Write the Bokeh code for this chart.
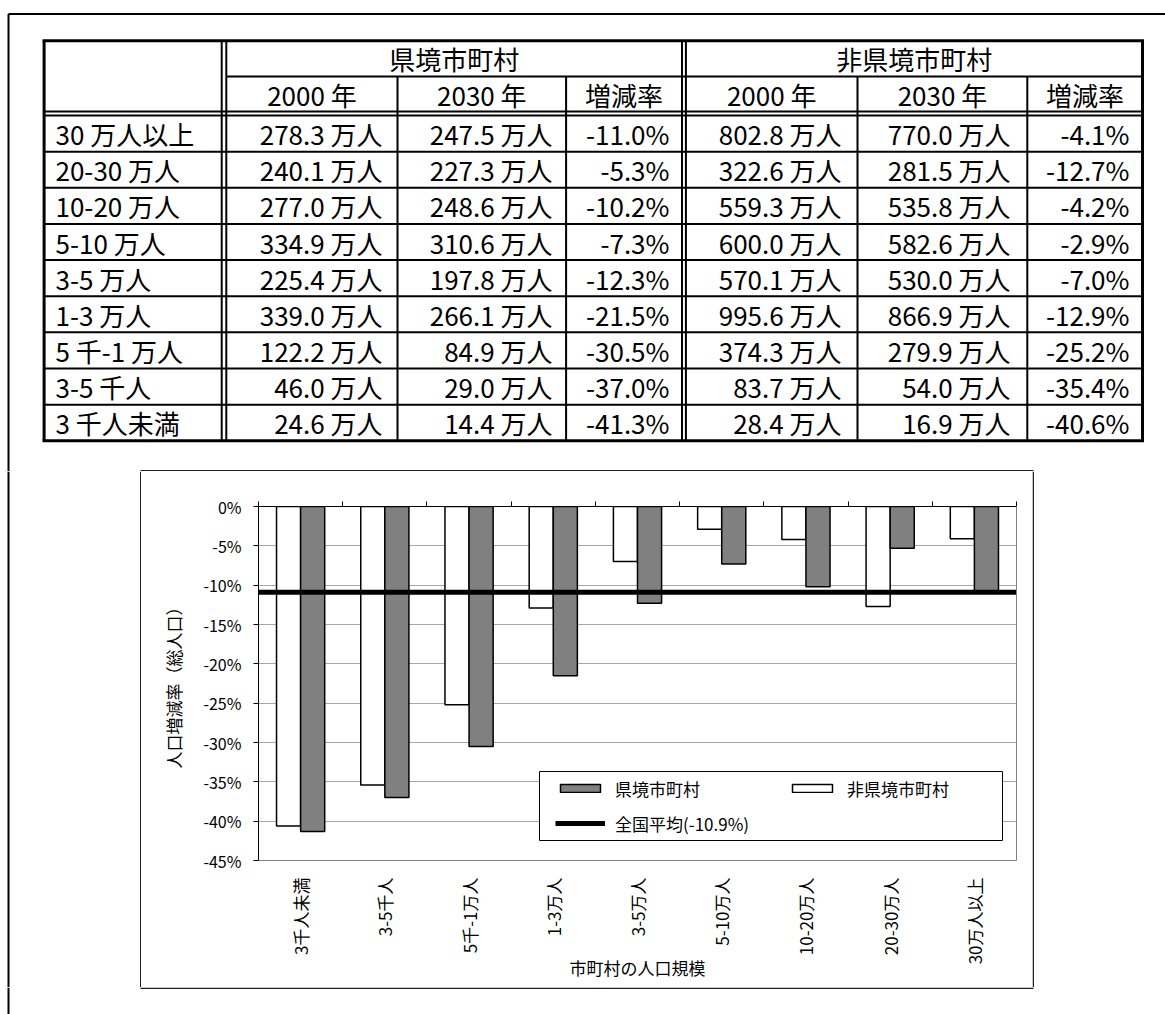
import math

from bokeh.core.properties import value
from bokeh.embed import file_html
from bokeh.layouts import column, row
from bokeh.models import (BoxAnnotation, ColumnDataSource, CustomJSTickFormatter,
                          FixedTicker, Legend, LegendItem, LinearAxis,
                          PrintfTickFormatter, Range1d)
from bokeh.plotting import figure
from bokeh.resources import INLINE

FONT = "Noto Sans CJK JP"

# ---------------------------------------------------------------- data
# table rows: municipality population size, largest first
size_classes = ["30 万人以上", "20-30 万人", "10-20 万人", "5-10 万人", "3-5 万人",
                "1-3 万人", "5 千-1 万人", "3-5 千人", "3 千人未満"]

# prefecture-border municipalities (万人, %)
border_2000 = [278.3, 240.1, 277.0, 334.9, 225.4, 339.0, 122.2, 46.0, 24.6]
border_2030 = [247.5, 227.3, 248.6, 310.6, 197.8, 266.1, 84.9, 29.0, 14.4]
border_rate = [-11.0, -5.3, -10.2, -7.3, -12.3, -21.5, -30.5, -37.0, -41.3]

# other municipalities (万人, %)
inner_2000 = [802.8, 322.6, 559.3, 600.0, 570.1, 995.6, 374.3, 83.7, 28.4]
inner_2030 = [770.0, 281.5, 535.8, 582.6, 530.0, 866.9, 279.9, 54.0, 16.9]
inner_rate = [-4.1, -12.7, -4.2, -2.9, -7.0, -12.9, -25.2, -35.4, -40.6]

group_names = ["県境市町村", "非県境市町村"]
column_headers = ["2000 年", "2030 年", "増減率"]

# chart categories, smallest first
chart_categories = ["3千人未満", "3-5千人", "5千-1万人", "1-3万人", "3-5万人",
                    "5-10万人", "10-20万人", "20-30万人", "30万人以上"]
national_avg = -10.9
rate_ticks = [0, -5, -10, -15, -20, -25, -30, -35, -40, -45]

y_axis_title = "人口増減率（総人口）"
x_axis_title = "市町村の人口規模"

# ---------------------------------------------------------------- page geometry
PAGE_W = 1165
TOP_H = 471          # band holding the table, down to the chart box top
MID_H = 516          # band holding the chart
BOT_H = 27           # band below the chart box
BOX_L, BOX_R = 140, 1032
FRAME_X, FRAME_Y = 8, 13.5
BOX_LINE = dict(line_color="#202020", line_width=1.5)


def canvas(w, h):
    """A plain drawing surface whose data units are pixels (y downwards)."""
    f = figure(width=w, height=h, x_range=Range1d(0, w), y_range=Range1d(h, 0),
               x_axis_type=None, y_axis_type=None, toolbar_location=None,
               output_backend="svg", min_border=0, outline_line_color=None,
               background_fill_color="white", border_fill_color="white",
               frame_align=False)
    return f


# ---------------------------------------------------------------- table band
top = canvas(PAGE_W, TOP_H)
# page frame (top and left edges)
top.segment(x0=[FRAME_X, FRAME_X], y0=[FRAME_Y, FRAME_Y], x1=[PAGE_W, FRAME_X],
            y1=[FRAME_Y, TOP_H], line_color="black", line_width=2)
# chart box top edge
top.segment(x0=[BOX_L], y0=[TOP_H - 0.75], x1=[BOX_R + 1], y1=[TOP_H - 0.75],
            **BOX_LINE)

T_L, T_R, T_T, T_B = 43.6, 1142.0, 40.2, 440.3
H1 = 76.0                      # below group headers
H2a, H2b = 111.0, 115.0        # double rule below column headers
LAB_a, LAB_b = 221.2, 225.8    # double rule right of the label column
GRP_a, GRP_b = 681.5, 685.4    # double rule between the two groups
n_rows = len(size_classes)
row_h = (T_B - H2b) / n_rows
row_edges = [H2b + row_h * k for k in range(n_rows + 1)]
row_mid = [(row_edges[k] + row_edges[k + 1]) / 2 for k in range(n_rows)]

# outer border
top.segment(x0=[T_L - 1.5, T_L - 1.5, T_L, T_R], y0=[T_T, T_B, T_T, T_T],
            x1=[T_R + 1.5, T_R + 1.5, T_L, T_R], y1=[T_T, T_B, T_B, T_B],
            line_color="black", line_width=3)
# inner rules
xs0, ys0, xs1, ys1 = [], [], [], []
for x in (LAB_a, LAB_b, GRP_a, GRP_b):
    xs0.append(x); ys0.append(T_T); xs1.append(x); ys1.append(T_B)
for x in (397.0, 565.6, 857.0, 1026.8):
    xs0.append(x); ys0.append(H1); xs1.append(x); ys1.append(T_B)
xs0.append(LAB_b); ys0.append(H1); xs1.append(T_R); ys1.append(H1)
for y in [H2a, H2b] + row_edges[1:-1]:
    xs0.append(T_L); ys0.append(y); xs1.append(T_R); ys1.append(y)
top.segment(x0=xs0, y0=ys0, x1=xs1, y1=ys1, line_color="black", line_width=2)

TABLE_FONT = dict(text_font=value(FONT), text_font_size=value("26px"),
                  text_color="black", text_baseline="middle")

# group headers
top.text(x=[(LAB_b + GRP_a) / 2, (GRP_b + T_R) / 2], y=[(T_T + H1) / 2] * 2,
         text=group_names, text_align="center", **TABLE_FONT)
# column headers
edges = [LAB_b, 397.0, 565.6, GRP_a, GRP_b, 857.0, 1026.8, T_R]
hx = [(edges[i] + edges[i + 1]) / 2 for i in (0, 1, 2, 4, 5, 6)]
top.text(x=hx, y=[(H1 + H2a) / 2] * 6, text=column_headers * 2,
         text_align="center", **TABLE_FONT)
# row labels
top.text(x=[55] * n_rows, y=row_mid, text=size_classes, text_align="left",
         **TABLE_FONT)


def people(vals):
    return [f"{v:.1f} 万人" for v in vals]


def pct(vals):
    return [f"{v:.1f}%" for v in vals]


table_cols = [(382, people(border_2000)), (552, people(border_2030)),
              (669, pct(border_rate)), (841, people(inner_2000)),
              (1010, people(inner_2030)), (1129, pct(inner_rate))]
for anchor, texts in table_cols:
    top.text(x=[anchor] * n_rows, y=row_mid, text=texts, text_align="right",
             **TABLE_FONT)

# ---------------------------------------------------------------- chart band
left_pad = canvas(BOX_L + 1, MID_H)
left_pad.segment(x0=[FRAME_X], y0=[0], x1=[FRAME_X], y1=[MID_H],
                 line_color="black", line_width=2)
left_pad.segment(x0=[BOX_L + 0.25], y0=[0], x1=[BOX_L + 0.25], y1=[MID_H],
                 **BOX_LINE)
right_pad = canvas(PAGE_W - BOX_R, MID_H)
right_pad.segment(x0=[0.75], y0=[0], x1=[0.75], y1=[MID_H], **BOX_LINE)

# categories occupy unit slots [i, i+1] on the x scale
n_cat = len(chart_categories)
slot_centres = [i + 0.5 for i in range(n_cat)]
slot_edges = list(range(n_cat + 1))

CH_W = BOX_R - (BOX_L + 1)
chart = figure(width=CH_W, height=MID_H,
               x_range=Range1d(0, n_cat), y_range=Range1d(min(rate_ticks), 0),
               toolbar_location=None, output_backend="svg",
               min_border_left=117, min_border_right=16, min_border_top=35,
               min_border_bottom=127, outline_line_color=None,
               background_fill_color="white", border_fill_color="white",
               frame_align=False)

# grid
chart.xgrid.grid_line_color = None
chart.ygrid.ticker = FixedTicker(ticks=rate_ticks)
chart.ygrid.grid_line_color = "#a6a6a6"
chart.ygrid.grid_line_width = 1

# y axis
yax = chart.yaxis[0]
yax.ticker = FixedTicker(ticks=rate_ticks)
yax.formatter = PrintfTickFormatter(format="%d%%")
yax.axis_line_color = "black"
yax.major_tick_line_color = "black"
yax.major_tick_out = 5
yax.major_tick_in = 0
yax.minor_tick_line_color = None
yax.major_label_standoff = 12
yax.major_label_text_font = FONT
yax.major_label_text_font_size = "16px"
yax.major_label_text_color = "black"
yax.axis_label = y_axis_title
yax.axis_label_standoff = 14
yax.axis_label_text_font = FONT
yax.axis_label_text_font_size = "17px"
yax.axis_label_text_font_style = "normal"
yax.axis_label_text_color = "black"

# category axis: labels hang below the plot area
cax = chart.xaxis[0]
cax.ticker = FixedTicker(ticks=slot_centres)
cax.major_label_overrides = {c: lab for c, lab in zip(slot_centres, chart_categories)}
cax.axis_line_color = "#808080"
cax.major_tick_line_color = None
cax.minor_tick_line_color = None
cax.major_tick_out = 0
cax.major_tick_in = 0
cax.major_label_orientation = math.pi / 2
cax.major_label_standoff = 17
cax.major_label_text_font = FONT
cax.major_label_text_font_size = "17px"
cax.major_label_text_color = "black"
cax.axis_label = x_axis_title
cax.axis_label_standoff = -12
cax.axis_label_text_font = FONT
cax.axis_label_text_font_size = "17px"
cax.axis_label_text_font_style = "normal"
cax.axis_label_text_color = "black"

# slot boundary ticks along the 0% line
blank = CustomJSTickFormatter(code="return ''")
top_axis = LinearAxis(ticker=FixedTicker(ticks=slot_edges), formatter=blank,
                      axis_line_color="black", major_tick_line_color="black",
                      major_tick_out=5, major_tick_in=0,
                      minor_tick_line_color=None, major_label_standoff=0)
chart.add_layout(top_axis, "above")
right_axis = LinearAxis(ticker=FixedTicker(ticks=[]), formatter=blank,
                        axis_line_color="#808080", major_tick_line_color=None,
                        minor_tick_line_color=None, major_tick_out=0,
                        major_tick_in=0, major_label_standoff=0)
chart.add_layout(right_axis, "right")

# bars: other municipalities left, border municipalities right in each slot
BAR_W = 0.286
src = ColumnDataSource(dict(
    x_inner=[c - BAR_W / 2 for c in slot_centres],
    x_border=[c + BAR_W / 2 for c in slot_centres],
    border=list(reversed(border_rate)),
    inner=list(reversed(inner_rate))))
r_inner = chart.vbar(x="x_inner", top=0, bottom="inner", width=BAR_W, source=src,
                     fill_color="white", line_color="black", line_width=1.5)
r_border = chart.vbar(x="x_border", top=0, bottom="border", width=BAR_W,
                      source=src, fill_color="#808080", line_color="black",
                      line_width=1.5)

# national average
avg_src = ColumnDataSource(dict(x=[0, n_cat], y=[national_avg, national_avg]))
r_avg = chart.line("x", "y", source=avg_src, line_color="black", line_width=5)

# legend: a framed panel (canvas pixels) holding two unframed legends
legend_panel = BoxAnnotation(left=398, right=861, top=300, bottom=369,
                             left_units="canvas", right_units="canvas",
                             top_units="canvas", bottom_units="canvas",
                             fill_color="white", fill_alpha=1,
                             line_color="black", line_width=1, line_alpha=1,
                             level="annotation")
chart.add_layout(legend_panel)

avg_label = f"全国平均({national_avg:.1f}%)"
LEG = dict(glyph_width=50, glyph_height=10, label_standoff=10,
           label_height=30, label_text_font=FONT, label_text_font_size="17px",
           label_text_color="black", margin=0, padding=0)
legend_left = Legend(items=[LegendItem(label=group_names[0], renderers=[r_border]),
                            LegendItem(label=avg_label, renderers=[r_avg])],
                     location=(297, 22), orientation="vertical", spacing=5,
                     border_line_color=None, background_fill_alpha=0, **LEG)
legend_right = Legend(items=[LegendItem(label=group_names[1], renderers=[r_inner])],
                      location=(529, 57), orientation="vertical", spacing=0,
                      border_line_color=None, background_fill_alpha=0, **LEG)
chart.add_layout(legend_left)
chart.add_layout(legend_right)

# ---------------------------------------------------------------- bottom band
bottom = canvas(PAGE_W, BOT_H)
bottom.segment(x0=[FRAME_X], y0=[0], x1=[FRAME_X], y1=[BOT_H],
               line_color="black", line_width=2)
bottom.segment(x0=[BOX_L], y0=[0.75], x1=[BOX_R + 1], y1=[0.75], **BOX_LINE)

page = column(top, row(left_pad, chart, right_pad), bottom)

with open("out.html", "w", encoding="utf-8") as fh:
    fh.write(file_html(page, INLINE))
